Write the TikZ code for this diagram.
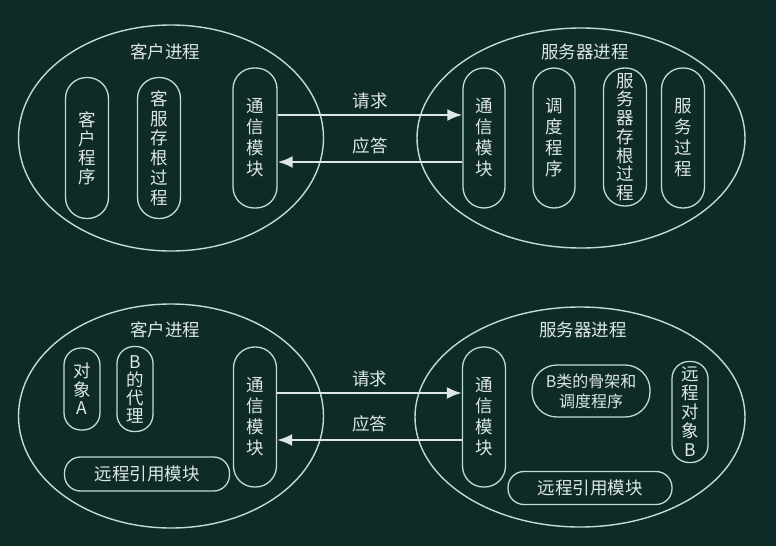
\documentclass[tikz,border=0pt]{standalone}
\usepackage{fontspec}
\newfontfamily\cjk{Noto Sans CJK SC}
\usetikzlibrary{shapes.geometric,arrows.meta}
\definecolor{board}{HTML}{0F2B27}
\definecolor{chalk}{HTML}{C0DDD4}
\definecolor{ink}{HTML}{DDE8E4}

\begin{document}
\begin{tikzpicture}[x=1pt,y=-1pt,font=\cjk\fontsize{17.5}{20}\selectfont,
    proc/.style={draw=chalk,line width=1.4pt,ellipse,inner sep=0pt},
    title/.style={ink},
    capsule/.style={draw=chalk,line width=1.3pt,text=ink,align=center,inner sep=0pt,
        minimum width=43pt,minimum height=140pt,rounded corners=21pt},
    bar/.style={draw=chalk,line width=1.3pt,text=ink,align=center,inner sep=0pt,
        minimum width=165pt,minimum height=34pt,rounded corners=16pt},
    msg/.style={draw=ink,line width=2.4pt,-{Latex[length=15pt,width=12pt]}},
    msglabel/.style={ink,above,inner sep=5pt}]
% Background:
\useasboundingbox [fill=board] (0,0) rectangle (776,546);

%%%
%% TOP
%%%
\begin{scope}
% Processes:
\node [proc,minimum width=305pt,minimum height=226pt] (client1) at (171,138) {};
\node [proc,minimum width=328pt,minimum height=220pt] (server1) at (581,138) {};
\node [title] (client1_title) at (165,52) {客户进程};
\node [title] (server1_title) at (585,52) {服务器进程};

% Client side
\node [capsule,minimum height=141pt,font=\cjk\fontsize{17.5}{19}\selectfont] (cprog1) at (87,148) {客\\户\\程\\序};
\node [capsule,minimum height=141pt,font=\cjk\fontsize{17.5}{19.8}\selectfont] (cstub1) at (159,148) {客\\服\\存\\根\\过\\程};
\node [capsule,minimum width=44pt,font=\cjk\fontsize{17.5}{21}\selectfont] (ccomm1) at (255,138) {通\\信\\模\\块};

% Server side
\node [capsule,minimum width=42pt,font=\cjk\fontsize{17.5}{21}\selectfont] (scomm1) at (484,138) {通\\信\\模\\块};
\node [capsule,minimum width=42pt,font=\cjk\fontsize{17.5}{21}\selectfont] (sched1) at (554,138) {调\\度\\程\\序};
\node [capsule,minimum width=43pt,minimum height=138pt,font=\cjk\fontsize{17.5}{18.7}\selectfont] (sstub1) at (625,137) {服\\务\\器\\存\\根\\过\\程};
\node [capsule,minimum width=43pt,font=\cjk\fontsize{17.5}{21}\selectfont] (sproc1) at (683,138) {服\\务\\过\\程};
\end{scope}

% Request and reply
\path [msg] ([yshift=23pt]ccomm1.east) -- node [msglabel] {请求} ([yshift=23pt]scomm1.west);
\path [msg] ([yshift=-24pt]scomm1.west) -- node [msglabel,inner sep=7pt] {应答} ([yshift=-24pt]ccomm1.east);

%%%
%% BOTTOM
%%%
\begin{scope}
% Processes:
\node [proc,minimum width=305pt,minimum height=224pt] (client2) at (171,416) {};
\node [proc,minimum width=330pt,minimum height=220pt] (server2) at (580,417) {};
\node [title] (client2_title) at (165,330) {客户进程};
\node [title] (server2_title) at (583,330) {服务器进程};

% Client side
\node [capsule,minimum width=36pt,minimum height=82pt,rounded corners=17pt,font=\cjk\fontsize{17.5}{18.5}\selectfont] (objA) at (82,389) {对\\象\\A};
\node [capsule,minimum width=36pt,minimum height=85pt,rounded corners=17pt,font=\cjk\fontsize{17.5}{18}\selectfont] (proxyB) at (135,389) {B\\的\\代\\理};
\node [capsule,minimum width=43pt,font=\cjk\fontsize{17.5}{21}\selectfont] (ccomm2) at (255,417) {通\\信\\模\\块};
\node [bar] (cref2) at (147,474) {远程引用模块};

% Server side
\node [capsule,minimum width=43pt,font=\cjk\fontsize{17.5}{21}\selectfont] (scomm2) at (484,417) {通\\信\\模\\块};
\node [bar,minimum width=118pt,minimum height=52pt,rounded corners=25pt,font=\cjk\fontsize{16}{20}\selectfont] (skelB) at (591,391) {B类的骨架和\\调度程序};
\node [capsule,minimum width=36pt,minimum height=101pt,rounded corners=17pt,font=\cjk\fontsize{17.5}{19}\selectfont] (remB) at (690,412) {远\\程\\对\\象\\B};
\node [bar,minimum width=164pt,minimum height=33pt] (sref2) at (590,488) {远程引用模块};
\end{scope}

% Request and reply
\path [msg] ([yshift=24pt]ccomm2.east) -- node [msglabel] {请求} ([yshift=24pt]scomm2.west);
\path [msg] ([yshift=-23pt]scomm2.west) -- node [msglabel,inner sep=7pt] {应答} ([yshift=-23pt]ccomm2.east);
\end{tikzpicture}
\end{document}
